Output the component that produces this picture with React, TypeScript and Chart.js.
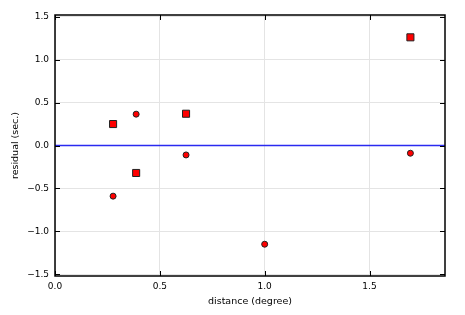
import React, { useEffect, useRef } from "react";
import { Chart, registerables } from "chart.js";

Chart.register(...registerables);

const squareDistance = [0.277, 0.387, 0.625, 1.695];
const squareResidual = [0.25, -0.32, 0.37, 1.26];
const circleDistance = [0.277, 0.387, 0.625, 1.0, 1.695];
const circleResidual = [-0.59, 0.365, -0.11, -1.15, -0.09];
const zeroLineX = [0, 1.86];
const zeroLineY = [0, 0];
const xTicks = [0, 0.5, 1.0, 1.5];
const yTicks = [-1.5, -1.0, -0.5, 0, 0.5, 1.0, 1.5];
const xRange = [0, 1.86];
const yRange = [-1.52, 1.52];
const xTitle = "distance (degree)";
const yTitle = "residual (sec.)";

const FONT = "'DejaVu Sans', sans-serif";

const fmt = (v: number) => (v < 0 ? "\u2212" : "") + Math.abs(v).toFixed(1);

const framePlugin = {
  id: "frame",
  afterDatasetsDraw(chart: any) {
    const { ctx, chartArea: a, scales } = chart;
    ctx.save();
    ctx.strokeStyle = "#000";
    ctx.lineWidth = 1;
    const tl = 5;
    ctx.beginPath();
    scales.x.ticks.forEach((t: any) => {
      const px = Math.round(scales.x.getPixelForValue(t.value)) + 0.5;
      ctx.moveTo(px, a.bottom);
      ctx.lineTo(px, a.bottom - tl);
      ctx.moveTo(px, a.top);
      ctx.lineTo(px, a.top + tl);
    });
    scales.y.ticks.forEach((t: any) => {
      const py = Math.round(scales.y.getPixelForValue(t.value)) + 0.5;
      ctx.moveTo(a.left, py);
      ctx.lineTo(a.left + tl, py);
      ctx.moveTo(a.right, py);
      ctx.lineTo(a.right - tl, py);
    });
    ctx.stroke();
    ctx.lineWidth = 1.5;
    ctx.strokeRect(a.left, a.top, a.right - a.left, a.bottom - a.top);
    ctx.restore();
  },
};

export default function App() {
  const ref = useRef<HTMLCanvasElement | null>(null);
  useEffect(() => {
    if (!ref.current) return;
    const chart = new Chart(ref.current, {
      type: "scatter",
      data: {
        datasets: [
          {
            type: "line",
            data: zeroLineX.map((x, i) => ({ x, y: zeroLineY[i] })),
            borderColor: "#2a2af0",
            borderWidth: 1.5,
            pointRadius: 0,
            fill: false,
            order: 2,
          } as any,
          {
            data: squareDistance.map((x, i) => ({ x, y: squareResidual[i] })),
            pointStyle: "rect",
            pointRadius: 5,
            backgroundColor: "#ff0000",
            borderColor: "#222",
            borderWidth: 1,
            order: 1,
          },
          {
            data: circleDistance.map((x, i) => ({ x, y: circleResidual[i] })),
            pointStyle: "circle",
            pointRadius: 3,
            backgroundColor: "#ff0000",
            borderColor: "#222",
            borderWidth: 1,
            order: 1,
          },
        ],
      },
      options: {
        animation: false,
        responsive: false,
        devicePixelRatio: 1,
        layout: { padding: { top: 15, right: 20, left: 0, bottom: 0 } },
        plugins: { legend: { display: false }, tooltip: { enabled: false } },
        scales: {
          x: {
            type: "linear",
            min: xRange[0],
            max: xRange[1],
            afterBuildTicks: (s: any) => {
              s.ticks = xTicks.map((v) => ({ value: v }));
            },
            afterFit: (s: any) => {
              s.height = 39;
            },
            grid: { color: "#e4e4e4", lineWidth: 1, drawTicks: false },
            border: { display: false },
            ticks: {
              callback: (v: any) => fmt(Number(v)),
              font: { family: FONT, size: 9 },
              color: "#000",
              padding: 5,
              maxRotation: 0,
              autoSkip: false,
            },
            title: {
              display: true,
              text: xTitle,
              font: { family: FONT, size: 9.5 },
              color: "#000",
              padding: { top: 0, bottom: 8 },
            },
          },
          y: {
            type: "linear",
            min: yRange[0],
            max: yRange[1],
            afterBuildTicks: (s: any) => {
              s.ticks = yTicks.map((v) => ({ value: v }));
            },
            afterFit: (s: any) => {
              s.width = 55;
            },
            grid: { color: "#e4e4e4", lineWidth: 1, drawTicks: false },
            border: { display: false },
            ticks: {
              callback: (v: any) => fmt(Number(v)),
              font: { family: FONT, size: 9 },
              color: "#000",
              padding: 6,
              autoSkip: false,
            },
            title: {
              display: true,
              text: yTitle,
              font: { family: FONT, size: 9.5 },
              color: "#000",
              padding: { top: 10, bottom: 0 },
            },
          },
        },
      },
      plugins: [framePlugin],
    });
    return () => chart.destroy();
  }, []);
  return (
    <div style={{ position: "fixed", left: 0, top: 0, width: 465, height: 315, background: "#fff" }}>
      <canvas ref={ref} width={465} height={315} style={{ display: "block" }} />
    </div>
  );
}
